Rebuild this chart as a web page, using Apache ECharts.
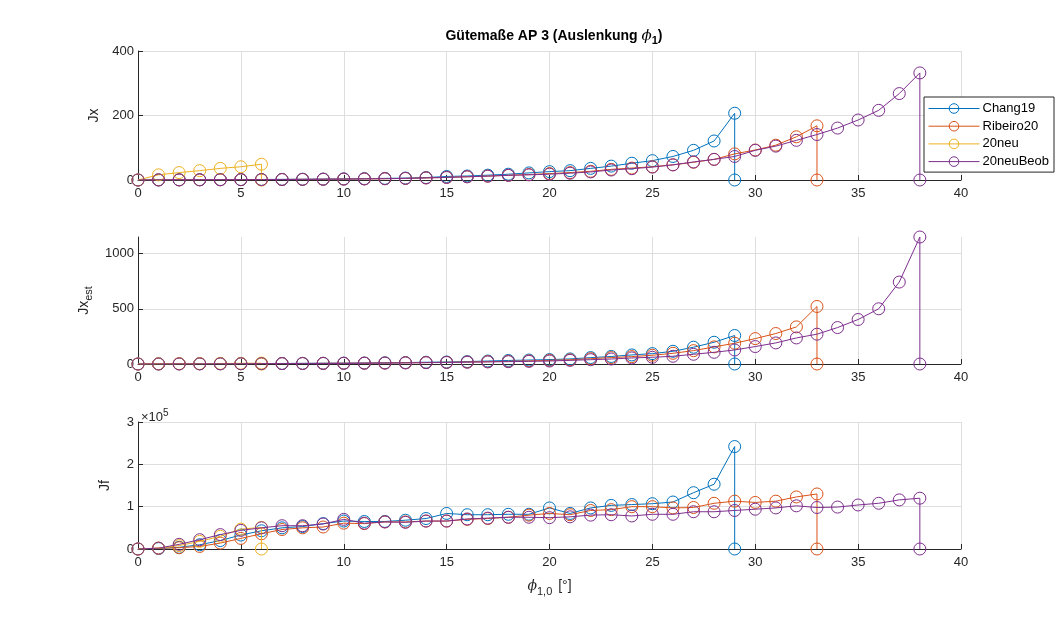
<!DOCTYPE html>
<html>
<head>
<meta charset="utf-8">
<script src="https://cdn.jsdelivr.net/npm/echarts@6/dist/echarts.min.js"></script>
<style>
  html, body {margin: 0; padding: 0; background: #fff;}
  #chart {width: 1063px; height: 617px;}
</style>
</head>
<body>
<div id="chart"></div>
<script>
// angle phi_1,0 per method (last point drops back to zero)
const phiChang19 = [0, 1, 2, 3, 4, 5, 6, 7, 8, 9, 10, 11, 12, 13, 14, 15, 16, 17, 18, 19, 20, 21, 22, 23, 24, 25, 26, 27, 28, 29, 29];
const phiRibeiro20 = [0, 1, 2, 3, 4, 5, 6, 7, 8, 9, 10, 11, 12, 13, 14, 15, 16, 17, 18, 19, 20, 21, 22, 23, 24, 25, 26, 27, 28, 29, 30, 31, 32, 33, 33];
const phi20neu = [0, 1, 2, 3, 4, 5, 6, 6];
const phi20neuBeob = [0, 1, 2, 3, 4, 5, 6, 7, 8, 9, 10, 11, 12, 13, 14, 15, 16, 17, 18, 19, 20, 21, 22, 23, 24, 25, 26, 27, 28, 29, 30, 31, 32, 33, 34, 35, 36, 37, 38, 38];

// Jx
const jxChang19 = [0, 0.3, 0.5, 0.8, 1, 1.3, 1.6, 2, 2.4, 2.9, 3.5, 4.2, 5, 6, 7.5, 11, 12.5, 15, 18, 22, 26, 29, 36, 43, 52, 60, 73, 92, 121, 207, 0];
const jxRibeiro20 = [0, 0.2, 0.4, 0.6, 0.8, 1, 1.3, 1.6, 2, 2.4, 2.9, 3.4, 4, 5, 6.5, 8, 10, 12, 14.5, 17, 20, 23, 27, 33, 37, 41, 47, 55, 64, 81, 93, 108, 134, 168, 0];
const jx20neu = [0, 16, 23, 29, 36, 41, 49, 0];
const jx20neuBeob = [0, 0.2, 0.4, 0.6, 0.8, 1, 1.2, 1.5, 1.9, 2.3, 2.8, 3.3, 4, 5, 6.5, 8, 10, 12, 14.5, 16, 18, 21, 25, 31, 35, 40, 47, 56, 64, 73, 92, 105, 123, 141, 161, 186, 216, 268, 332, 0];

// Jx_est
const jxEstChang19 = [0, 0.5, 1, 1.5, 2, 3, 4, 5, 6, 7, 8, 9, 11, 13, 16, 18, 22, 27, 32, 36, 40, 46, 58, 68, 82, 94, 115, 152, 197, 258, 0];
const jxEstRibeiro20 = [0, 0.5, 1, 1.5, 2, 2.5, 3, 4, 5, 6, 7, 8, 9, 11, 13, 15, 18, 21, 24, 28, 33, 38, 48, 58, 67, 79, 97, 121, 155, 188, 230, 276, 336, 521, 0];
const jxEst20neu = [0, 2, 3, 4, 5, 6, 8, 0];
const jxEst20neuBeob = [0, 0.5, 1, 1.5, 2, 2.5, 3, 3.5, 4, 5, 6, 7, 8, 10, 12, 14, 16, 19, 21, 24, 27, 33, 39, 45, 55, 61, 70, 88, 106, 127, 158, 191, 236, 270, 330, 403, 500, 742, 1150, 0];

// Jf (in units of 1e5)
const jfChang19 = [0, 0.01, 0.04, 0.1, 0.2, 0.33, 0.43, 0.5, 0.53, 0.6, 0.66, 0.65, 0.65, 0.68, 0.72, 0.84, 0.81, 0.81, 0.82, 0.82, 0.97, 0.84, 0.97, 1.03, 1.05, 1.07, 1.11, 1.33, 1.53, 2.42, 0];
const jfRibeiro20 = [0, 0.02, 0.03, 0.06, 0.14, 0.25, 0.36, 0.46, 0.5, 0.52, 0.61, 0.6, 0.64, 0.64, 0.66, 0.66, 0.7, 0.72, 0.75, 0.8, 0.84, 0.81, 0.91, 0.93, 1.0, 1.0, 0.97, 0.98, 1.08, 1.13, 1.1, 1.13, 1.23, 1.3, 0];
const jf20neu = [0, 0.02, 0.08, 0.18, 0.3, 0.47, 0.51, 0];
const jf20neuBeob = [0, 0.02, 0.11, 0.22, 0.34, 0.44, 0.5, 0.55, 0.55, 0.59, 0.7, 0.61, 0.64, 0.63, 0.66, 0.66, 0.71, 0.73, 0.75, 0.75, 0.74, 0.76, 0.8, 0.81, 0.78, 0.82, 0.82, 0.88, 0.88, 0.91, 0.94, 0.97, 1.02, 0.98, 0.99, 1.04, 1.08, 1.16, 1.2, 0];

const methods = ["Chang19", "Ribeiro20", "20neu", "20neuBeob"];
const colors = ["#0072BD", "#D95319", "#EDB120", "#7E2F8E"];
const phis = [phiChang19, phiRibeiro20, phi20neu, phi20neuBeob];
const panels = [
  [jxChang19, jxRibeiro20, jx20neu, jx20neuBeob],
  [jxEstChang19, jxEstRibeiro20, jxEst20neu, jxEst20neuBeob],
  [jfChang19, jfRibeiro20, jf20neu, jf20neuBeob],
];
const jxEstTicks = [0, 500, 1000];

const FONT = "Liberation Sans, Arial, sans-serif";
const AXIS_COLOR = "#262626";
const GRID_COLOR = "#dedede";

const chart = echarts.init(document.getElementById("chart"));

const gridTops = [51, 237, 422];
const gridHeights = [129, 127, 127];
const grids = gridTops.map((t, i) => ({left: 138, right: 102, top: t, height: gridHeights[i]}));

const xAxes = grids.map((g, i) => ({
  type: "value",
  gridIndex: i,
  min: 0,
  max: 40,
  interval: 5,
  axisLine: {show: true, onZero: false, lineStyle: {color: AXIS_COLOR, width: 1}},
  axisTick: {show: true, inside: true, length: 5, lineStyle: {color: AXIS_COLOR}},
  axisLabel: {color: AXIS_COLOR, fontFamily: FONT, fontSize: 13, margin: 7},
  splitLine: {show: true, lineStyle: {color: GRID_COLOR}},
  name: i === 2 ? "{i|ϕ}{s|1,0} [°]" : "",
  nameLocation: "middle",
  nameGap: 27,
  nameTextStyle: {
    color: AXIS_COLOR, fontFamily: FONT, fontSize: 14,
    rich: {
      i: {fontFamily: "DejaVu Serif", fontStyle: "italic", fontSize: 14, color: AXIS_COLOR},
      s: {fontSize: 11, fontFamily: FONT, color: AXIS_COLOR, padding: [10, 2, 0, 0]},
    },
  },
}));

const yCommon = {
  type: "value",
  axisLine: {show: true, onZero: false, lineStyle: {color: AXIS_COLOR, width: 1}},
  axisTick: {show: true, inside: true, length: 5, lineStyle: {color: AXIS_COLOR}},
  axisLabel: {color: AXIS_COLOR, fontFamily: FONT, fontSize: 13, margin: 4, formatter: (v) => String(v)},
  splitLine: {show: true, lineStyle: {color: GRID_COLOR}},
  nameLocation: "middle",
  nameRotate: 90,
  nameTextStyle: {
    color: AXIS_COLOR, fontFamily: FONT, fontSize: 14,
    rich: {s: {fontSize: 11, fontFamily: FONT, color: AXIS_COLOR, padding: [10, 0, 0, 0]}},
  },
};

const yAxes = [
  {...yCommon, gridIndex: 0, min: 0, max: 400, interval: 200, name: "Jx", nameGap: 30},
  {...yCommon, gridIndex: 1, min: 0, max: 1150, interval: 500, name: "Jx{s|est}", nameGap: 36,
    axisTick: {...yCommon.axisTick, customValues: jxEstTicks},
    axisLabel: {...yCommon.axisLabel, customValues: jxEstTicks}},
  {...yCommon, gridIndex: 2, min: 0, max: 3, interval: 1, name: "Jf", nameGap: 26},
];

const series = [];
panels.forEach((vals, p) => {
  methods.forEach((m, k) => {
    series.push({
      name: m,
      type: "line",
      xAxisIndex: p,
      yAxisIndex: p,
      data: phis[k].map((x, j) => [x, vals[k][j]]),
      color: colors[k],
      symbol: "circle",
      symbolSize: 12,
      showAllSymbol: true,
      itemStyle: {color: "rgba(255,255,255,0)", borderColor: colors[k], borderWidth: 1},
      lineStyle: {color: colors[k], width: 1},
      emphasis: {disabled: true},
      animation: false,
      z: 2 + k,
    });
  });
});

const option = {
  animation: false,
  backgroundColor: "#fff",
  title: [
    {
      text: "Gütemaße AP 3 (Auslenkung {i|ϕ}{s|1})",
      left: 549,
      top: 22,
      textAlign: "center",
      textStyle: {
        fontFamily: FONT, fontSize: 14, fontWeight: "bold", color: "#000",
        rich: {
          i: {fontFamily: "DejaVu Serif", fontStyle: "italic", fontSize: 15, fontWeight: "normal", color: "#000"},
          s: {fontFamily: FONT, fontSize: 11, fontWeight: "bold", color: "#000", padding: [8, 0, 0, 0]},
        },
      },
    },
    {
      text: "×10{e|5}",
      left: 136,
      top: 403,
      textStyle: {
        fontFamily: FONT, fontSize: 13, fontWeight: "normal", color: AXIS_COLOR,
        rich: {e: {fontFamily: FONT, fontSize: 10, color: AXIS_COLOR, padding: [0, 0, 8, 0]}},
      },
    },
  ],
  legend: {
    data: methods.map((m, k) => ({name: m, itemStyle: {color: "rgba(255,255,255,0)", borderColor: colors[k], borderWidth: 1}, lineStyle: {color: colors[k], width: 1}})),
    orient: "vertical",
    left: 924,
    top: 97,
    itemWidth: 51,
    itemHeight: 12,
    itemGap: 4.7,
    padding: [5, 5, 4, 4],
    backgroundColor: "#fff",
    borderColor: AXIS_COLOR,
    borderWidth: 1,
    borderRadius: 0,
    textStyle: {fontFamily: FONT, fontSize: 13, color: "#000", padding: [0, 0, 0, -2]},
    selectedMode: false,
    z: 20,
  },
  grid: grids,
  xAxis: xAxes,
  yAxis: yAxes,
  series: series,
};

chart.setOption(option);
</script>
</body>
</html>
